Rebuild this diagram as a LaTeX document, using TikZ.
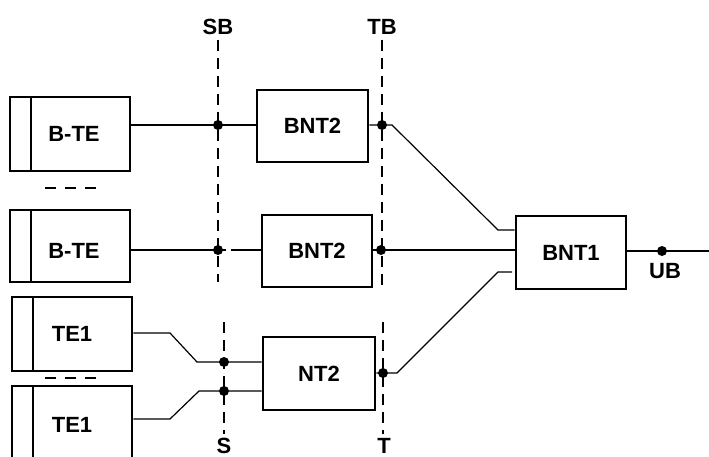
\documentclass[tikz,border=0pt]{standalone}
\usepackage{fontspec}
\setmainfont{Liberation Sans}
\begin{document}
\begin{tikzpicture}[x=1pt,y=-1pt,
  box/.style={draw,line width=2.6pt,rectangle,inner sep=0pt,font=\bfseries\fontsize{22}{24}\selectfont},
  term/.style={box,path picture={\draw[line width=2.6pt]
      ([xshift=21pt]path picture bounding box.north west) --
      ([xshift=21pt]path picture bounding box.south west);}},
  wire/.style={line width=1.2pt},
  refline/.style={line width=1.5pt,dash pattern=on 11pt off 7pt},
  sep/.style={line width=1.6pt,dash pattern=on 11pt off 9pt},
  dot/.style={circle,fill,inner sep=0pt,minimum size=10pt},
  lbl/.style={font=\bfseries\fontsize{22}{24}\selectfont,inner sep=0pt}]
\useasboundingbox (0,0) rectangle (709,457);
\clip (0,0) rectangle (709,457);
% terminals
\node[term,minimum width=120pt,minimum height=74pt] (bte1) at (70,134) {\hspace*{8pt}B-TE};
\node[term,minimum width=120pt,minimum height=72pt] (bte2) at (70,246) {\hspace*{8pt}\raisebox{-5pt}[\height][\depth]{B-TE}};
\node[term,minimum width=120pt,minimum height=74pt] (te1a) at (72,334) {TE1};
\node[term,minimum width=120pt,minimum height=78pt] (te1b) at (72,425) {TE1};
% network terminations
\node[box,minimum width=111pt,minimum height=72pt] (bnt2a) at (312.5,126) {BNT2};
\node[box,minimum width=110pt,minimum height=72pt] (bnt2b) at (317,251) {BNT2};
\node[box,minimum width=112pt,minimum height=73pt] (nt2) at (319,373.5) {NT2};
\node[box,minimum width=110pt,minimum height=73pt] (bnt1) at (571,252.5) {BNT1};
% reference point labels
\node[lbl] (SB) at (218,27) {SB};
\node[lbl] (TB) at (382,27) {TB};
\node[lbl] (S) at (224,446) {S};
\node[lbl] (T) at (384,446) {T};
\node[lbl] (UB) at (665,271) {UB};
% reference lines
\coordinate (sbend) at (218,282);
\coordinate (tbend) at (382,285);
\coordinate (stop) at (224,322);
\coordinate (send) at (224,434);
\coordinate (ttop) at (383,322);
\coordinate (tend) at (383,434);
\draw[refline] (SB.south) ++(0,5) -- (sbend);
\draw[refline] (TB.south) ++(0,5) -- (tbend);
\draw[refline] (stop) -- (send);
\draw[refline] (ttop) -- (tend);
% separators
\coordinate (s1a) at (45,188); \coordinate (s1b) at (98,188);
\coordinate (s2a) at (45,378); \coordinate (s2b) at (98,378);
\draw[sep] (s1a) -- (s1b);
\draw[sep] (s2a) -- (s2b);
% dots
\node[dot] (d1) at (218,125) {};
\node[dot] (d2) at (382,125) {};
\node[dot] (d3) at (218,250) {};
\node[dot] (d4) at (381,250) {};
\node[dot] (d5) at (224,362) {};
\node[dot] (d6) at (224,391) {};
\node[dot] (d7) at (383,373) {};
\node[dot] (d8) at (662,251) {};
% bend points
\coordinate (k1) at (392,125);
\coordinate (k2) at (498,230);
\coordinate (k3) at (397,373);
\coordinate (k4) at (498,272);
\coordinate (k4e) at (512,272);
\coordinate (k5) at (170,333);
\coordinate (k6) at (197,362);
\coordinate (k7) at (170,419);
\coordinate (k8) at (199,391);
\coordinate (gapa) at (226,250);
\coordinate (gapb) at (231,250);
\coordinate (out) at (709,251);
% connectors
\draw[wire] (bte1.east |- d1) -- (d1.center) -- (bnt2a.west |- d1);
\draw[wire] (bte2.east |- d3) -- (d3.center) -- (gapa);
\draw[wire] (gapb) -- (bnt2b.west |- d3);
\draw[wire] (bnt2a.east |- d2) -- (d2.center) -- (k1) -- (k2) -- (bnt1.west |- k2);
\draw[wire] (bnt2b.east |- d4) -- (d4.center) -- (bnt1.west |- d4);
\draw[wire] (nt2.east |- d7) -- (d7.center) -- (k3) -- (k4) -- (k4e);
\draw[wire] (te1a.east |- k5) -- (k5) -- (k6) -- (d5.center) -- (nt2.west |- d5);
\draw[wire] (te1b.east |- k7) -- (k7) -- (k8) -- (d6.center) -- (nt2.west |- d6);
\draw[wire] (bnt1.east |- d8) -- (d8.center) -- (out);
\end{tikzpicture}
\end{document}
